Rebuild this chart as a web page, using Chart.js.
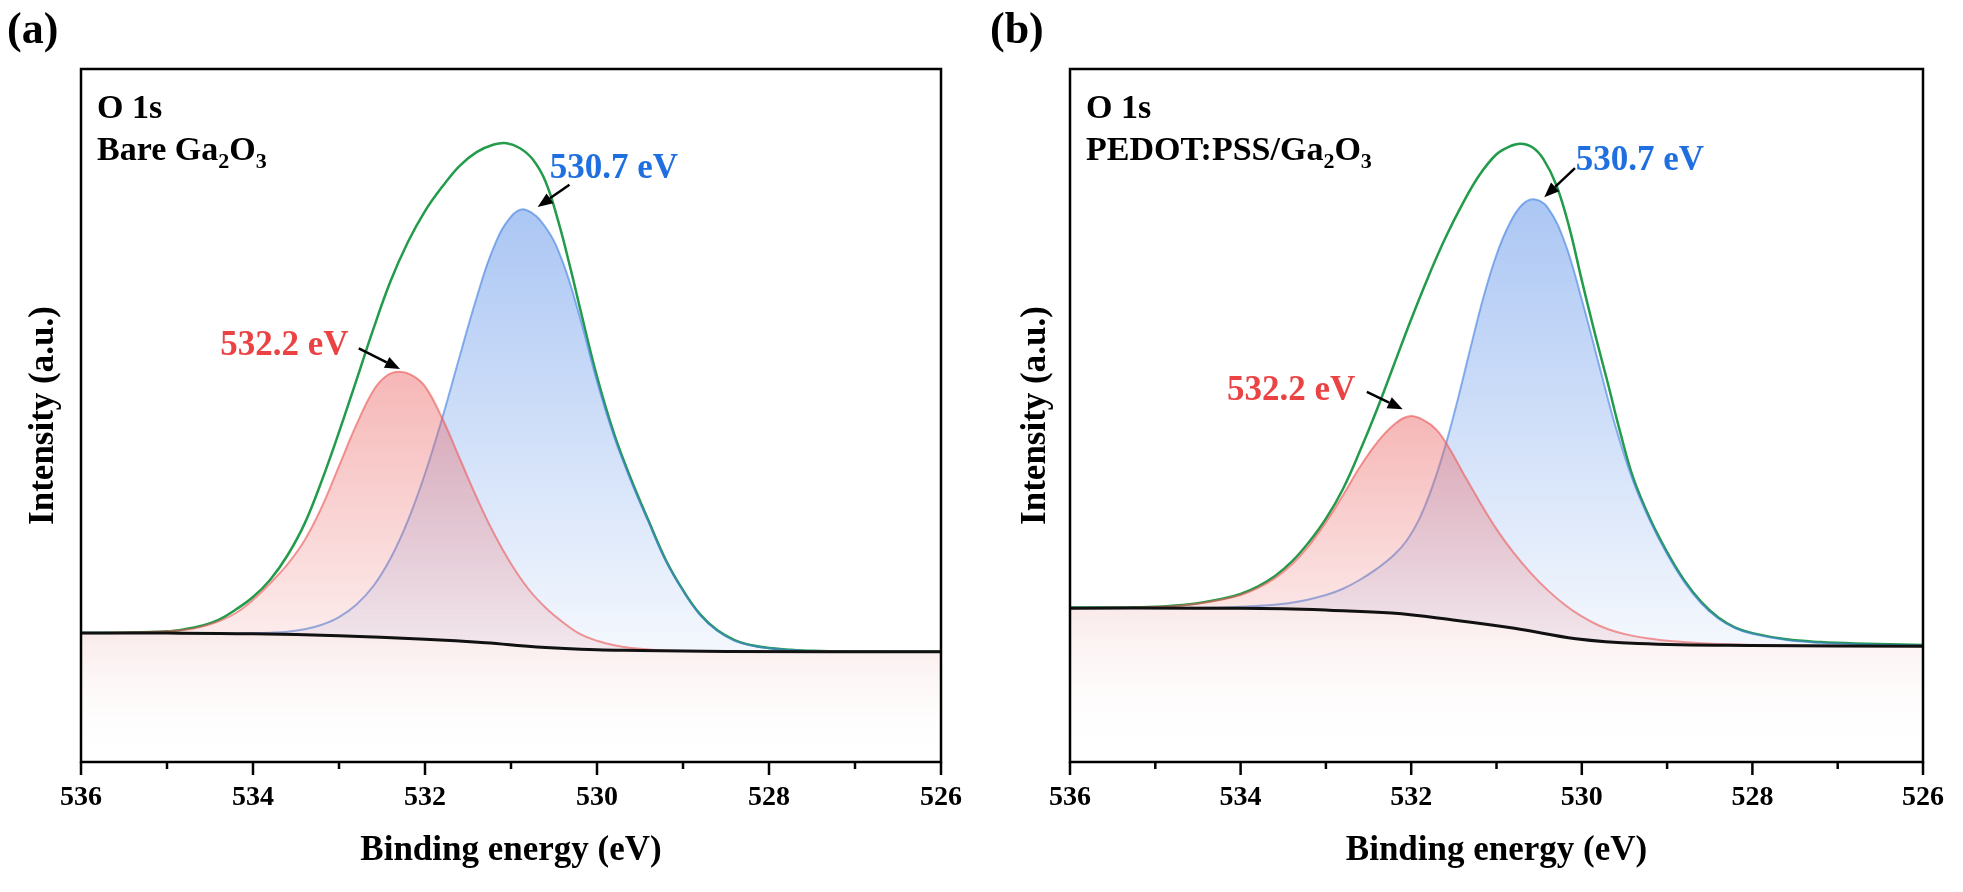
<!DOCTYPE html>
<html>
<head>
<meta charset="utf-8">
<script src="https://cdn.jsdelivr.net/npm/chart.js@4.4.1/dist/chart.umd.min.js"></script>
<style>
  html, body { margin: 0; padding: 0; background: #fff; }
  #wrap { position: relative; width: 1963px; height: 892px; overflow: hidden; }
  #chartA { position: absolute; left: 0; top: 0; }
  #chartB { position: absolute; left: 989px; top: 0; }
</style>
</head>
<body>
<div id="wrap">
  <canvas id="chartA" width="989" height="892"></canvas>
  <canvas id="chartB" width="974" height="892"></canvas>
</div>
<script>
const FONT = "'Liberation Serif', 'Times New Roman', Times, serif";

// x tick labels (binding energy, eV)
const xTickLabels = [536, 534, 532, 530, 528, 526];

// (a) Bare Ga2O3 : [eV, intensity a.u.]
const baseA = [[536,18.6],[535,18.6],[534,18.5],[533,18.2],[532,17.7],[531.3,17.2],[530.7,16.6],[530,16.2],[529.5,16.1],[529,16.0],[528.5,15.95],[526,15.9]];
const redA = [[536,18.6],[535.6,18.65],[535.2,18.75],[534.8,19.05],[534.6,19.5],[534.4,20.3],[534.2,21.5],[534.0,23.4],[533.8,25.8],[533.6,28.5],[533.4,32.0],[533.2,36.8],[533.0,42.7],[532.8,48.6],[532.6,53.6],[532.45,55.7],[532.3,56.3],[532.15,55.8],[532.0,54.2],[531.8,49.6],[531.6,43.9],[531.4,38.2],[531.2,33.0],[531.0,28.6],[530.8,25.0],[530.6,22.3],[530.4,20.2],[530.2,18.5],[530.0,17.5],[529.8,16.85],[529.6,16.45],[529.4,16.25],[529.2,16.1],[528.8,16.0],[528,15.95],[526,15.9]];
const blueA = [[536,18.6],[535,18.6],[534.4,18.55],[534.0,18.58],[533.8,18.65],[533.6,18.8],[533.4,19.15],[533.2,19.8],[533.0,20.9],[532.8,22.7],[532.6,25.4],[532.4,29.4],[532.2,34.8],[532.0,41.6],[531.8,49.6],[531.6,58.4],[531.4,67.0],[531.2,74.3],[531.0,78.7],[530.83,79.7],[530.6,77.2],[530.4,72.2],[530.2,64.2],[530.0,54.9],[529.8,46.9],[529.6,40.4],[529.4,34.6],[529.2,29.0],[529.0,24.7],[528.8,21.2],[528.6,18.9],[528.4,17.5],[528.2,16.8],[528.0,16.4],[527.8,16.2],[527.5,16.0],[527.0,15.93],[526,15.9]];
const sumA = [[536,18.6],[535.5,18.65],[535.0,18.85],[534.8,19.15],[534.6,19.65],[534.4,20.5],[534.2,22.0],[534.0,23.8],[533.8,26.3],[533.6,29.8],[533.4,34.4],[533.2,40.6],[533.0,47.6],[532.8,55.0],[532.6,62.5],[532.4,69.4],[532.2,75.0],[532.0,79.5],[531.8,83.0],[531.6,86.0],[531.4,88.0],[531.2,89.1],[531.05,89.3],[530.9,88.6],[530.75,87.0],[530.6,83.8],[530.45,78.0],[530.3,70.8],[530.2,65.6],[530.0,55.6],[529.8,47.3],[529.6,40.7],[529.4,34.8],[529.2,29.15],[529.0,24.8],[528.8,21.3],[528.6,19.0],[528.4,17.6],[528.2,16.85],[528.0,16.45],[527.8,16.25],[527.5,16.05],[527.0,15.95],[526,15.9]];

// (b) PEDOT:PSS/Ga2O3
const baseB = [[536,22.2],[534.5,22.2],[533.5,22.1],[532.96,21.9],[532.23,21.5],[531.51,20.5],[530.79,19.3],[530.07,17.8],[529.34,17.1],[528.0,16.8],[526,16.7]];
const redB = [[536,22.2],[535.5,22.25],[535.0,22.35],[534.6,22.7],[534.2,23.5],[534.0,24.1],[533.8,25.1],[533.6,26.5],[533.4,28.5],[533.2,31.2],[533.0,34.6],[532.8,38.5],[532.6,42.6],[532.4,46.1],[532.2,48.7],[532.02,49.9],[531.85,49.3],[531.7,47.9],[531.55,45.2],[531.4,41.9],[531.2,37.6],[531.0,33.6],[530.8,30.2],[530.6,27.3],[530.4,24.8],[530.2,22.7],[530.0,21.0],[529.8,19.7],[529.6,18.8],[529.4,18.2],[529.2,17.8],[529.0,17.5],[528.6,17.15],[528.2,16.95],[527.5,16.8],[526,16.7]];
const blueB = [[536,22.2],[534.5,22.25],[534.0,22.4],[533.6,22.7],[533.3,23.2],[533.0,24.1],[532.8,25.0],[532.6,26.3],[532.4,27.9],[532.2,29.9],[532.05,32.0],[531.9,35.2],[531.75,39.8],[531.6,45.6],[531.45,52.5],[531.3,60.0],[531.15,67.2],[531.0,73.2],[530.85,77.6],[530.7,80.4],[530.56,81.2],[530.4,80.0],[530.2,75.0],[530.0,66.7],[529.8,57.4],[529.6,48.2],[529.4,40.6],[529.2,34.8],[529.0,30.0],[528.8,26.0],[528.6,22.9],[528.4,20.7],[528.2,19.3],[528.0,18.5],[527.6,17.6],[527.2,17.2],[526.8,17.0],[526,16.8]];
const sumB = [[536,22.3],[535.5,22.3],[535.0,22.4],[534.6,22.75],[534.2,23.6],[534.0,24.25],[533.8,25.3],[533.6,26.8],[533.4,28.9],[533.2,31.7],[533.0,35.1],[532.8,39.4],[532.6,44.9],[532.4,50.9],[532.2,57.4],[532.0,63.9],[531.8,70.0],[531.6,75.6],[531.4,80.5],[531.2,84.7],[531.0,87.7],[530.85,88.8],[530.72,89.2],[530.58,88.7],[530.45,87.0],[530.3,83.3],[530.15,77.3],[530.0,69.5],[529.85,62.0],[529.7,54.9],[529.55,47.6],[529.4,41.1],[529.2,35.1],[529.0,30.3],[528.8,26.25],[528.6,23.1],[528.4,20.85],[528.2,19.4],[528.0,18.6],[527.6,17.7],[527.2,17.3],[526.8,17.1],[526,16.9]];

// peak labels: text anchor + arrow (tail -> tip), in data units
const notesA = [
  { text: '530.7 eV', color: '#1F6FE0', at: [530.55, 84.3], from: [530.32, 83.3], to: [530.69, 80.1] },
  { text: '532.2 eV', color: '#EB4343', at: [534.38, 58.7], from: [532.77, 59.7], to: [532.29, 56.7] }
];
const notesB = [
  { text: '530.7 eV', color: '#1F6FE0', at: [530.07, 85.4], from: [530.08, 85.7], to: [530.44, 81.5] },
  { text: '532.2 eV', color: '#EB4343', at: [534.16, 52.2], from: [532.52, 53.4], to: [532.10, 50.9] }
];

const DECOR = {
  chartA: { letter: '(a)', letterX: 7, lines: [[['O 1s', 0]], [['Bare Ga', 0], ['2', 1], ['O', 0], ['3', 1]]], notes: notesA },
  chartB: { letter: '(b)', letterX: 1, lines: [[['O 1s', 0]], [['PEDOT:PSS/Ga', 0], ['2', 1], ['O', 0], ['3', 1]]], notes: notesB }
};

function pts(arr) { return arr.map(p => ({ x: p[0], y: p[1] })); }

function vGrad(topVal, botVal, c0, c1) {
  return function(context) {
    const ch = context.chart;
    if (!ch.chartArea) return c0;
    const y = ch.scales.y;
    const g = ch.ctx.createLinearGradient(0, y.getPixelForValue(topVal), 0, y.getPixelForValue(botVal));
    g.addColorStop(0, c0);
    g.addColorStop(1, c1);
    return g;
  };
}

function drawRich(ctx, parts, x, y, size) {
  parts.forEach(([t, sub]) => {
    const s = sub ? Math.round(size * 0.64) : size;
    ctx.font = 'bold ' + s + 'px ' + FONT;
    ctx.fillText(t, x, sub ? y + size * 0.24 : y);
    x += ctx.measureText(t).width;
  });
}

function arrow(ctx, x0, y0, x1, y1) {
  const a = Math.atan2(y1 - y0, x1 - x0), L = 15, W = 6;
  const bx = x1 - L * Math.cos(a), by = y1 - L * Math.sin(a);
  ctx.beginPath();
  ctx.moveTo(x0, y0);
  ctx.lineTo(bx, by);
  ctx.stroke();
  ctx.beginPath();
  ctx.moveTo(x1, y1);
  ctx.lineTo(bx + W * Math.sin(a), by - W * Math.cos(a));
  ctx.lineTo(bx - W * Math.sin(a), by + W * Math.cos(a));
  ctx.closePath();
  ctx.fill();
}

const decorPlugin = {
  id: 'panelDecor',
  afterDraw(chart) {
    const d = DECOR[chart.canvas.id];
    const ctx = chart.ctx;
    const area = chart.chartArea;
    const xs = chart.scales.x, ys = chart.scales.y;
    ctx.save();
    // frame
    ctx.strokeStyle = '#000';
    ctx.lineWidth = 2.5;
    ctx.strokeRect(area.left, area.top, area.right - area.left, area.bottom - area.top);
    // outward ticks, long on labelled values
    xs.ticks.forEach(t => {
      const px = xs.getPixelForValue(t.value);
      const len = xTickLabels.includes(t.value) ? 13 : 7;
      ctx.beginPath();
      ctx.moveTo(px, area.bottom);
      ctx.lineTo(px, area.bottom + len);
      ctx.stroke();
    });
    ctx.fillStyle = '#000';
    ctx.textAlign = 'left';
    ctx.textBaseline = 'alphabetic';
    ctx.font = 'bold 44px ' + FONT;
    ctx.fillText(d.letter, d.letterX, 43);
    drawRich(ctx, d.lines[0], area.left + 16, area.top + 49, 34);
    drawRich(ctx, d.lines[1], area.left + 16, area.top + 91, 34);
    // peak labels and arrows
    d.notes.forEach(n => {
      ctx.font = 'bold 35px ' + FONT;
      ctx.fillStyle = n.color;
      ctx.fillText(n.text, xs.getPixelForValue(n.at[0]), ys.getPixelForValue(n.at[1]));
      ctx.strokeStyle = '#000';
      ctx.fillStyle = '#000';
      ctx.lineWidth = 2.5;
      arrow(ctx, xs.getPixelForValue(n.from[0]), ys.getPixelForValue(n.from[1]),
                 xs.getPixelForValue(n.to[0]), ys.getPixelForValue(n.to[1]));
    });
    ctx.restore();
  }
};

function maxY(arr) { return Math.max(...arr.map(p => p[1])); }
function minY(arr) { return Math.min(...arr.map(p => p[1])); }

function makePanel(id, base, red, blue, sum, layout) {
  const lo = minY(base);
  return new Chart(document.getElementById(id), {
    type: 'line',
    data: {
      datasets: [
        { data: pts(base), borderColor: '#111', borderWidth: 3, order: 1, fill: 'start',
          backgroundColor: vGrad(maxY(base), 0, 'rgba(232,160,160,0.22)', 'rgba(255,255,255,0)') },
        { data: pts(red), borderColor: 'rgba(235,90,90,0.62)', borderWidth: 2, order: 3, fill: '0',
          backgroundColor: vGrad(maxY(red), lo, 'rgba(235,95,95,0.45)', 'rgba(235,95,95,0.10)') },
        { data: pts(blue), borderColor: 'rgba(70,130,225,0.62)', borderWidth: 2, order: 4, fill: '0',
          backgroundColor: vGrad(maxY(blue), lo, 'rgba(70,130,230,0.45)', 'rgba(70,130,230,0.06)') },
        { data: pts(sum), borderColor: '#229B4B', borderWidth: 2.5, order: 5, fill: false }
      ]
    },
    options: {
      responsive: false,
      animation: false,
      devicePixelRatio: 1,
      layout: { padding: { left: 0, top: 69, right: layout.right, bottom: 0 } },
      elements: { point: { radius: 0 }, line: { tension: 0.4 } },
      plugins: { legend: { display: false }, tooltip: { enabled: false } },
      scales: {
        x: {
          type: 'linear', reverse: true, min: 526, max: 536,
          grid: { display: false, drawTicks: false },
          border: { display: false },
          ticks: {
            stepSize: 1, autoSkip: false, maxRotation: 0, padding: 19, color: '#000',
            font: { family: FONT, size: 28, weight: 'bold' },
            callback: v => xTickLabels.includes(v) ? String(v) : ''
          },
          title: { display: true, text: 'Binding energy (eV)', color: '#000',
                   font: { family: FONT, size: 35, weight: 'bold' }, padding: { top: 0, bottom: 20 } },
          afterFit: s => { s.height = 130; }
        },
        y: {
          min: 0, max: 100,
          grid: { display: false, drawTicks: false },
          border: { display: false },
          ticks: { display: false },
          title: { display: true, text: 'Intensity (a.u.)', color: '#000',
                   font: { family: FONT, size: 35, weight: 'bold' }, padding: { top: layout.titlePad, bottom: 0 } },
          afterFit: s => { s.width = 81; }
        }
      }
    },
    plugins: [decorPlugin]
  });
}

makePanel('chartA', baseA, redA, blueA, sumA, { right: 48, titlePad: 23 });
makePanel('chartB', baseB, redB, blueB, sumB, { right: 34, titlePad: 26 });
</script>
</body>
</html>
